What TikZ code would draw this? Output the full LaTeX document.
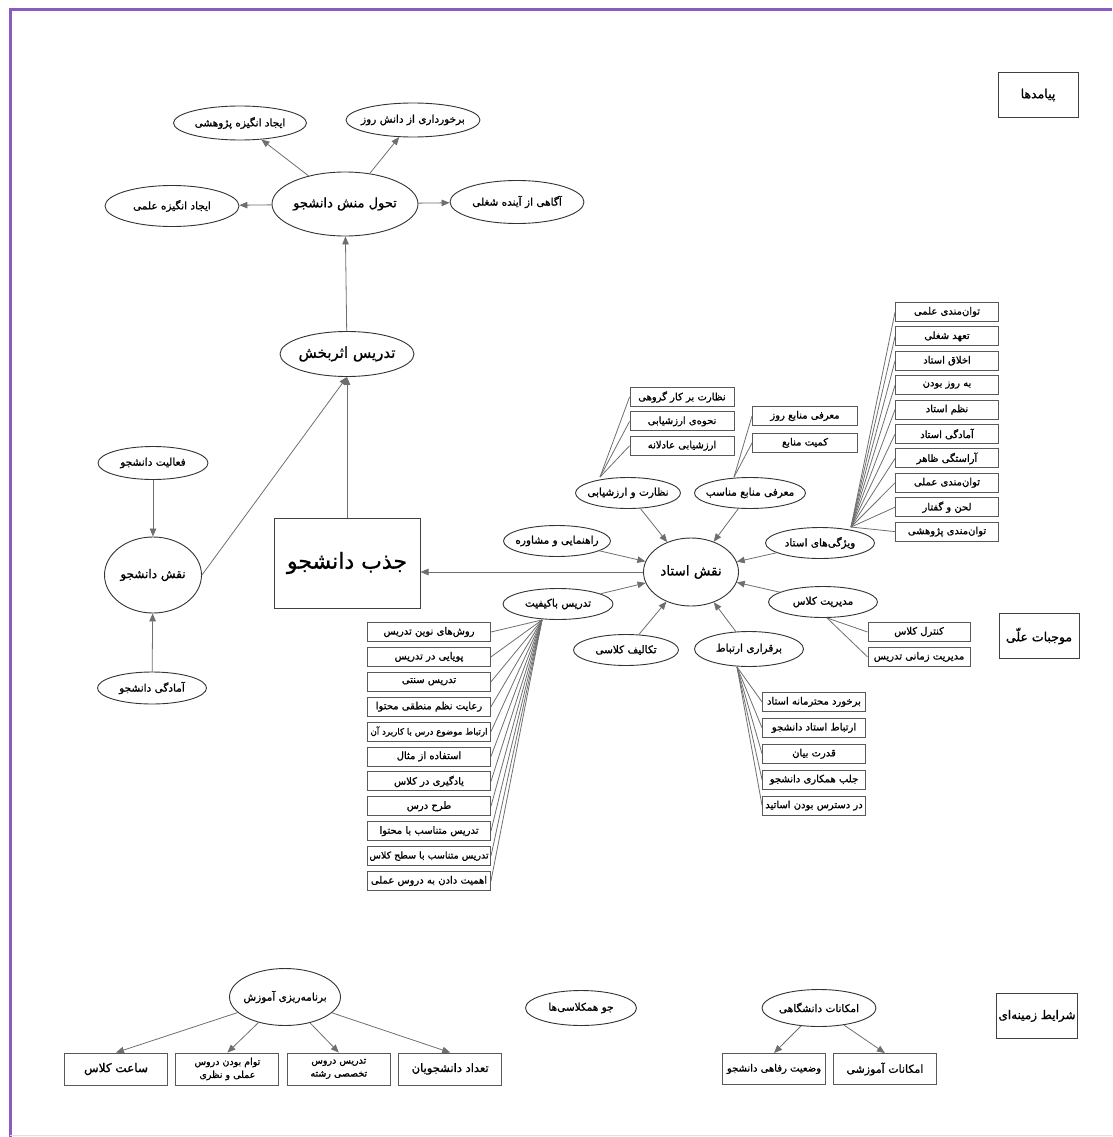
\documentclass[tikz,border=0pt]{standalone}
\usepackage{fontspec}
\newfontfamily\farsi[Script=Arabic,FakeBold=1]{DejaVu Sans}
\TeXXeTstate=1
\usetikzlibrary{shapes}
\usetikzlibrary{positioning}
\usetikzlibrary{arrows.meta}
\definecolor{frame}{HTML}{8A5CC2}
\definecolor{wire}{HTML}{6E6E6E}
\tikzstyle{concept} = [ellipse,fill=white,draw=black!80,line width=0.9pt,inner xsep=-5pt,inner ysep=0pt,
minimum width=110pt, minimum height=31pt, font=\farsi\fontsize{10.5}{12}\selectfont]
\tikzstyle{item} = [rectangle, fill=white, draw=black!65, line width=0.9pt, inner sep=1pt,
minimum width=103pt, minimum height=19pt, font=\farsi\fontsize{10}{10}\selectfont, node distance=4.5pt]
\tikzstyle{category} = [rectangle, draw=black!75, line width=1pt, inner xsep=2pt, minimum width=80pt,
minimum height=45pt, font=\farsi\fontsize{12.5}{14}\selectfont]
\tikzset{>={Triangle[length=8pt,width=6.5pt]}}
\newcommand{\fa}[1]{\beginR#1\endR}
\newcommand{\edge}[3][]{ %
  % Connect all nodes #2 to all nodes #3.
  \foreach \x in {#2} { %
    \foreach \y in {#3} { %
      \path (\x) edge [->,#1] (\y) ;%
    } ;
  } ;
}
\begin{document}
\begin{tikzpicture}[x=1pt,y=-1pt,every edge/.append style={draw=wire,line width=0.8pt}]
                \useasboundingbox (0,0) rectangle (1112,1137);
                \draw[frame, line width=3pt] (10,1137) -- (10,10) -- (1112,10);
                \draw[black!12, line width=1pt] (10,1135) -- (1112,1135);

                % outcomes
                \node[concept, minimum width=146pt, minimum height=64pt, font=\farsi\fontsize{13}{13}\selectfont] (p0) at (345,204) {\fa{تحول منش دانشجو}} ; %
                \node[concept, minimum width=133pt, minimum height=34pt] (p1) at (240,123) {\fa{ایجاد انگیزه پژوهشی}} ; %
                \node[concept, minimum width=134pt, minimum height=34pt] (p2) at (413,120) {\fa{برخورداری از دانش روز}} ; %
                \node[concept, minimum width=134pt, minimum height=41pt] (p3) at (172,206) {\fa{ایجاد انگیزه علمی}} ; %
                \node[concept, minimum width=134pt, minimum height=43pt] (p4) at (517,202) {\fa{آگاهی از آینده شغلی}} ; %
                \node[concept, minimum width=134pt, minimum height=45pt, font=\farsi\fontsize{15}{15}\selectfont] (t0) at (347,354) {\fa{تدریس اثربخش}} ; %
                \node[category] (l1) at (1038,95) {\fa{پیامدها}} ; %

                % student side
                \node[concept, minimum width=110pt, minimum height=33pt] (d1) at (153,463) {\fa{فعالیت دانشجو}} ; %
                \node[concept, minimum width=97pt, minimum height=76pt, font=\farsi\fontsize{12}{12}\selectfont] (d0) at (153,575) {\fa{نقش دانشجو}} ; %
                \node[concept, minimum width=109pt, minimum height=32pt] (d2) at (152,688) {\fa{آمادگی دانشجو}} ; %
                \node[rectangle, draw=black!75, line width=1pt, minimum width=146pt, minimum height=90pt, font=\farsi\fontsize{22}{22}\selectfont] (j0) at (347,563) {\fa{جذب دانشجو}} ; %

                % teacher side
                \node[concept, minimum width=95pt, minimum height=68pt, font=\farsi\fontsize{13.5}{14}\selectfont] (u0) at (691,572) {\fa{نقش استاد}} ; %
                \node[concept, minimum width=105pt] (u1) at (628,493) {\fa{نظارت و ارزشیابی}} ; %
                \node[concept, minimum width=111pt] (u2) at (750,493) {\fa{معرفی منابع مناسب}} ; %
                \node[concept, minimum width=109pt] (u3) at (820,543) {\fa{ویژگی‌های استاد}} ; %
                \node[concept, minimum width=107pt] (u4) at (557,541) {\fa{راهنمایی و مشاوره}} ; %
                \node[concept, minimum width=110pt] (u5) at (558,604) {\fa{تدریس باکیفیت}} ; %
                \node[concept, minimum width=109pt] (u6) at (823,602) {\fa{مدیریت کلاس}} ; %
                \node[concept, minimum width=105pt] (u7) at (626,650) {\fa{تکالیف کلاسی}} ; %
                \node[concept, minimum width=109pt, minimum height=35pt] (u8) at (749,649) {\fa{برقراری ارتباط}} ; %
                \node[category] (l2) at (1039,636) {\fa{موجبات علّی}} ; %

                \node[item, minimum width=104pt] (n1) at (682,397) {\fa{نظارت بر کار گروهی}} ; %
                \node[item, minimum width=104pt, below=of n1] (n2) {\fa{نحوه‌ی ارزشیابی}} ; %
                \node[item, minimum width=104pt, below=of n2] (n3) {\fa{ارزشیابی عادلانه}} ; %

                \node[item, minimum width=105pt] (m1) at (805,416) {\fa{معرفی منابع روز}} ; %
                \node[item, minimum width=105pt, below=7pt of m1] (m2) {\fa{کمیت منابع}} ; %

                \node[item] (v1) at (947,312) {\fa{توان‌مندی علمی}} ; %
                \node[item, below=of v1] (v2) {\fa{تعهد شغلی}} ; %
                \node[item, below=of v2] (v3) {\fa{اخلاق استاد}} ; %
                \node[item, below=of v3] (v4) {\fa{به روز بودن}} ; %
                \node[item, below=of v4] (v5) {\fa{نظم استاد}} ; %
                \node[item, below=of v5] (v6) {\fa{آمادگی استاد}} ; %
                \node[item, below=of v6] (v7) {\fa{آراستگی ظاهر}} ; %
                \node[item, below=of v7] (v8) {\fa{توان‌مندی عملی}} ; %
                \node[item, below=of v8] (v9) {\fa{لحن و گفتار}} ; %
                \node[item, below=of v9] (v10) {\fa{توان‌مندی پژوهشی}} ; %

                \node[item, minimum width=123pt] (q1) at (429,632) {\fa{روش‌های نوین تدریس}} ; %
                \node[item, minimum width=123pt, below=5pt of q1] (q2) {\fa{پویایی در تدریس}} ; %
                \node[item, minimum width=123pt, below=5pt of q2] (q3) {\fa{تدریس سنتی}} ; %
                \node[item, minimum width=123pt, below=5pt of q3] (q4) {\fa{رعایت نظم منطقی محتوا}} ; %
                \node[item, minimum width=123pt, below=5pt of q4, font=\farsi\fontsize{8.7}{9}\selectfont] (q5) {\fa{ارتباط موضوع درس با کاربرد آن}} ; %
                \node[item, minimum width=123pt, below=5pt of q5] (q6) {\fa{استفاده از مثال}} ; %
                \node[item, minimum width=123pt, below=5pt of q6] (q7) {\fa{یادگیری در کلاس}} ; %
                \node[item, minimum width=123pt, below=5pt of q7] (q8) {\fa{طرح درس}} ; %
                \node[item, minimum width=123pt, below=5pt of q8] (q9) {\fa{تدریس متناسب با محتوا}} ; %
                \node[item, minimum width=123pt, below=5pt of q9, font=\farsi\fontsize{9.5}{9}\selectfont] (q10) {\fa{تدریس متناسب با سطح کلاس}} ; %
                \node[item, minimum width=123pt, below=5pt of q10] (q11) {\fa{اهمیت دادن به دروس عملی}} ; %

                \node[item, minimum width=102pt] (r1) at (919,632) {\fa{کنترل کلاس}} ; %
                \node[item, minimum width=102pt, below=5pt of r1] (r2) {\fa{مدیریت زمانی تدریس}} ; %

                \node[item] (e1) at (814,702) {\fa{برخورد محترمانه استاد}} ; %
                \node[item, below=6pt of e1] (e2) {\fa{ارتباط استاد دانشجو}} ; %
                \node[item, below=6pt of e2] (e3) {\fa{قدرت بیان}} ; %
                \node[item, below=6pt of e3] (e4) {\fa{جلب همکاری دانشجو}} ; %
                \node[item, below=6pt of e4] (e5) {\fa{در دسترس بودن اساتید}} ; %

                \coordinate (nh) at ([xshift=-28pt]u1.north) ; %
                \coordinate (mh) at ([xshift=-16pt]u2.north) ; %
                \coordinate (vh) at ([xshift=31pt]u3.north) ; %
                \coordinate (qh) at ([xshift=-16pt]u5.south) ; %
                \coordinate (rh) at ([xshift=4pt]u6.south) ; %
                \coordinate (eh) at ([xshift=-12pt]u8.south) ; %
                \coordinate (jh) at (j0.east |- u0.west) ; %

                % context
                \node[concept, minimum width=111pt, minimum height=57pt] (z0) at (285,997) {\fa{برنامه‌ریزی آموزش}} ; %
                \node[item, minimum height=32pt, font=\farsi\fontsize{12}{12}\selectfont] (z1) at (116,1069) {\fa{ساعت کلاس}} ; %
                \node[item, minimum height=32pt, right=7.5pt of z1, align=center, font=\farsi\fontsize{9.5}{13}\selectfont] (z2) {\fa{توام بودن دروس}\\\fa{عملی و نظری}} ; %
                \node[item, minimum height=32pt, right=7.5pt of z2, align=center, font=\farsi\fontsize{9.5}{13}\selectfont] (z3) {\fa{تدریس دروس}\\\fa{تخصصی رشته}} ; %
                \node[item, minimum height=32pt, right=7.5pt of z3, font=\farsi\fontsize{11.5}{12}\selectfont] (z4) {\fa{تعداد دانشجویان}} ; %
                \node[concept, minimum width=111pt, minimum height=35pt] (c0) at (581,1008) {\fa{جو همکلاسی‌ها}} ; %
                \node[concept, minimum width=114pt, minimum height=37pt] (f0) at (819,1008) {\fa{امکانات دانشگاهی}} ; %
                \node[item, minimum height=31pt] (f1) at (774,1069) {\fa{وضعیت رفاهی دانشجو}} ; %
                \node[item, minimum height=31pt, right=7pt of f1, font=\farsi\fontsize{11}{12}\selectfont] (f2) {\fa{امکانات آموزشی}} ; %
                \node[category, font=\farsi\fontsize{12}{14}\selectfont] (l3) at (1037,1016) {\fa{شرایط زمینه‌ای}} ; %

                \edge {p0} {p1,p2,p3,p4};
                \edge {t0} {p0};
                \edge {j0.north,d0.east} {t0.south};
                \edge {d1,d2} {d0};
                \edge {u1,u2,u3,u4,u5,u6,u7,u8} {u0};
                \edge {u0.west} {jh};
                \edge[-] {nh} {n1.west,n2.west,n3.west};
                \edge[-] {mh} {m1.west,m2.west};
                \edge[-] {vh} {v1.west,v2.west,v3.west,v4.west,v5.west,v6.west,v7.west,v8.west,v9.west,v10.west};
                \edge[-] {qh} {q1.east,q2.east,q3.east,q4.east,q5.east,q6.east,q7.east,q8.east,q9.east,q10.east,q11.east};
                \edge[-] {rh} {r1.west,r2.west};
                \edge[-] {eh} {e1.west,e2.west,e3.west,e4.west,e5.west};
                \edge {z0} {z1.north,z2.north,z3.north,z4.north};
                \edge {f0} {f1.north,f2.north};
            \end{tikzpicture}
\end{document}
